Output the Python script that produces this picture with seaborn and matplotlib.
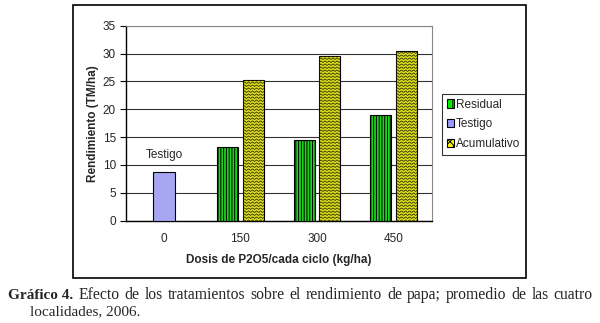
import numpy as np
import pandas as pd
import seaborn as sns
import matplotlib
matplotlib.use("Agg")
import matplotlib.pyplot as plt
from matplotlib.patches import Rectangle, Patch
from matplotlib.transforms import IdentityTransform

# ---- data ----
dosis = ["0", "150", "300", "450"]
testigo = [8.7, None, None, None]
residual = [None, 13.3, 14.5, 19.0]
acumulativo = [None, 25.2, 29.6, 30.4]
series = ["Residual", "Testigo", "Acumulativo"]
yticks = [0, 5, 10, 15, 20, 25, 30, 35]

rows = []
for name, vals in zip(series, [residual, testigo, acumulativo]):
    for d, v in zip(dosis, vals):
        if v is not None:
            rows.append({"dosis": d, "serie": name, "valor": v})
df = pd.DataFrame(rows)

colors = {"Residual": "#00f000", "Testigo": "#9999ff", "Acumulativo": "#ffff00"}

sns.set_theme(style="white")
plt.rcParams["font.family"] = ["Liberation Sans", "DejaVu Sans"]
plt.rcParams["hatch.linewidth"] = 0.7

FS = 8.5
W, H, DPI = 600, 323, 100
fig = plt.figure(figsize=(W / DPI, H / DPI), dpi=DPI)

# outer frame
fig.patches.append(Rectangle((73 / W, 1 - 278 / H), (526 - 73) / W, (278 - 5) / H,
                             transform=fig.transFigure, fill=False, edgecolor="black",
                             linewidth=1.2))

ax = fig.add_axes([125.7 / W, 1 - 220.7 / H, (431.7 - 125.7) / W, (220.7 - 25.7) / H])
sns.barplot(data=df, x="dosis", y="valor", hue="serie", hue_order=series, order=dosis,
            palette=colors, dodge=True, width=0.5, edgecolor="black", linewidth=0.8,
            legend=False, ax=ax, zorder=3)

ax.set_xlim(-0.5, 3.5)
ax.set_ylim(0, 35)
ax.set_yticks(yticks)
ax.set_yticklabels([str(t) for t in yticks], fontsize=FS)
ax.set_xticks(range(len(dosis)))
ax.set_xticklabels(dosis, fontsize=FS)
ax.set_xticks([-0.5, 0.5, 1.5, 2.5, 3.5], minor=True)
ax.tick_params(axis="x", which="major", length=0, pad=8.5)
ax.tick_params(axis="x", which="minor", length=4, width=0.8, color="black", direction="out")
ax.tick_params(axis="y", length=4, width=0.8, color="black", direction="out", left=True, pad=3)
ax.yaxis.grid(True, color="#333333", linewidth=0.8)
ax.set_axisbelow(True)
for s in ["top", "right"]:
    ax.spines[s].set_color("#888888")
    ax.spines[s].set_linewidth(0.8)
for s in ["left", "bottom"]:
    ax.spines[s].set_color("black")
    ax.spines[s].set_linewidth(1.0)

ax.set_xlabel("Dosis de P2O5/cada ciclo (kg/ha)", fontsize=FS, fontweight="bold", labelpad=7)
ax.set_ylabel("Rendimiento (TM/ha)", fontsize=FS, fontweight="bold", labelpad=2.5)

# widen bars around their dodge centres, apply patterns
bar_w = 0.278
fig.canvas.draw()
for cont, name in zip(ax.containers, series):
    for p in cont.patches:
        if np.isnan(p.get_height()) or p.get_height() == 0:
            continue
        cx = p.get_x() + p.get_width() / 2
        p.set_x(cx - bar_w / 2)
        p.set_width(bar_w)
        if name == "Residual":
            p.set_hatch("||||||")
        if name == "Acumulativo":
            # zig-zag texture drawn in pixel space, clipped to the bar
            (x0, y0), (x1, y1) = ax.transData.transform([(p.get_x(), 0),
                                                          (p.get_x() + bar_w, p.get_height())])
            xs = np.arange(x0 - 4, x1 + 4, 2.0)
            for yy in np.arange(y0, y1 + 3, 3.0):
                ys = yy + np.where((np.arange(len(xs)) % 2) == 0, -0.8, 0.8)
                ln = ax.plot(xs, ys, transform=IdentityTransform(), color="#333300",
                             linewidth=0.6, zorder=3.5)[0]
                ln.set_clip_path(p)

ax.text(0, 8.7 + 2.0, "Testigo", ha="center", va="bottom", fontsize=FS)

handles = [Patch(facecolor=colors["Residual"], edgecolor="black", hatch="|||", linewidth=0.8),
           Patch(facecolor=colors["Testigo"], edgecolor="black", linewidth=0.8),
           Patch(facecolor=colors["Acumulativo"], edgecolor="black", hatch="xxxx", linewidth=0.8)]
leg = fig.legend(handles, series, loc="upper left", bbox_to_anchor=(442 / W, 1 - 94 / H),
                 fontsize=FS, frameon=True, fancybox=False, edgecolor="black",
                 handlelength=0.6, handleheight=0.7, handletextpad=0.2, borderpad=0.4,
                 labelspacing=0.65, borderaxespad=0)
leg.get_frame().set_linewidth(0.8)

# caption (justified first line)
r = fig.canvas.get_renderer()
y1 = 1 - 299 / H
words = ["Gráfico 4."] + "Efecto de los tratamientos sobre el rendimiento de papa; promedio de las cuatro".split()
texts = []
for i, w in enumerate(words):
    t = fig.text(0, y1, w, fontsize=11 if i == 0 else 11.3,
                 fontweight="bold" if i == 0 else "normal",
                 family="Liberation Serif", ha="left", va="baseline")
    texts.append(t)
widths = [t.get_window_extent(r).width for t in texts]
left, right = 8.0, 593.0
gap = (right - left - sum(widths)) / (len(words) - 1)
x = left
for t, w in zip(texts, widths):
    t.set_x(x / W)
    x += w + gap
fig.text(30 / W, 1 - 315 / H, "localidades, 2006.", fontsize=11,
         family="Liberation Serif", ha="left", va="baseline")

fig.savefig("out.png", dpi=DPI, facecolor="white")
